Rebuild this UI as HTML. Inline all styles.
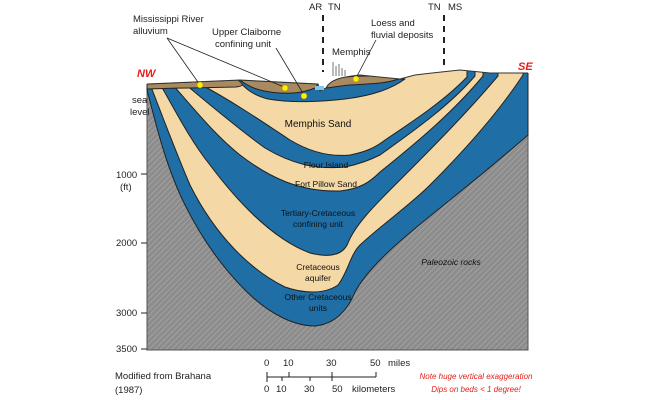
<!DOCTYPE html>
<html><head><style>
body{margin:0;background:#fff;}
svg{display:block;font-family:"Liberation Sans",sans-serif;}
</style></head><body>
<svg width="648" height="400" viewBox="0 0 648 400" xmlns="http://www.w3.org/2000/svg">
<defs>
<pattern id="h" width="4" height="4" patternUnits="userSpaceOnUse" patternTransform="rotate(45)">
<rect width="4" height="4" fill="#8c8c8c"/><line x1="0" y1="0" x2="0" y2="4" stroke="#a8a8a8" stroke-width="1.5"/>
</pattern>
</defs>
<rect x="147" y="80" width="381" height="270" fill="url(#h)" stroke="#555" stroke-width="1"/>
<g stroke="#222" stroke-width="1" stroke-linejoin="round">
<path fill="#1f6ea6" d="M147,60 L147,90 C155,120 165,165 185,205 C200,235 220,265 245,290 C270,315 295,326 315,326 C335,324 348,310 355,292 C370,265 400,240 450,200 C480,176 505,155 528,135 L528,60 Z"/>
<path fill="#f4d8a6" d="M150,60 L150,84 C160,110 175,150 190,185 C215,235 250,270 285,287 C305,294 325,294 338,285 C348,272 350,255 360,245 C385,222 410,205 430,185 C470,145 500,110 523,75 L523,60 Z"/>
<path fill="#1f6ea6" d="M160,60 L160,84 C175,110 190,140 210,165 C240,205 275,240 310,253 C330,258 343,255 348,243 C355,225 375,205 395,185 C430,150 465,115 498,76 L498,60 Z"/>
<path fill="#f4d8a6" d="M172,60 L172,84 C195,110 215,135 240,155 C270,178 300,192 340,191 C360,189 370,182 380,172 C420,140 455,110 483,76 L483,60 Z"/>
<path fill="#1f6ea6" d="M185,60 L185,84 C210,105 240,130 265,148 C290,163 315,170 345,167 C360,164 370,160 380,155 C415,130 450,105 475,76 L475,60 Z"/>
<path fill="#f4d8a6" d="M200,60 L200,84 C230,100 260,120 290,140 C310,152 330,157 350,155 C365,152 375,148 385,140 C415,120 445,100 467,77 L467,60 Z"/>
<path fill="#1f6ea6" d="M238,80 C245,88 252,95 268,99 C290,103 320,102 345,99 C370,96 390,90 405,79 Z"/>
<path fill="#a88a5e" d="M147,84 L238,80 C243,84 245,86 236,87 L190,88 C170,88 155,89 147,89 Z"/>
<path fill="#a88a5e" d="M240,80 C250,88 262,92 280,93 C295,94 305,92 315,88 L318,84 Z"/>
<path fill="#a88a5e" d="M325,88 C328,82 332,79 345,77 C365,75 385,76 398,79 C390,83 370,84 350,85 C338,86 330,88 325,88 Z"/>
</g>
<path d="M140,0 L540,0 L540,73 L528,73 L490,73 L460,70 L432,73 L415,75 L400,79 L360,75 C340,77 330,80 326,88 L320,91 L318,84 L240,80 L147,84 L140,84 Z" fill="#fff"/>
<path d="M147,84 L240,80 L318,84 L320,91 L326,88 C330,80 340,77 360,75 L400,79 L415,75 L432,73 L460,70 L490,73 L528,73" fill="none" stroke="#333" stroke-width="1"/>
<rect x="315" y="86" width="9" height="4" fill="#7fc6e8"/>
<g fill="#bbb"><rect x="332" y="62" width="2" height="14"/><rect x="335" y="66" width="2" height="10"/><rect x="338" y="64" width="2" height="12"/><rect x="341" y="68" width="2" height="8"/><rect x="344" y="70" width="2" height="6"/></g>
<line x1="323" y1="15" x2="323" y2="72" stroke="#222" stroke-width="2" stroke-dasharray="6,5"/>
<line x1="444" y1="15" x2="444" y2="70" stroke="#222" stroke-width="2" stroke-dasharray="6,5"/>
<g stroke="#222" stroke-width="0.8"><line x1="167" y1="38" x2="200" y2="85"/><line x1="167" y1="38" x2="284" y2="87"/><line x1="276" y1="48" x2="304" y2="95"/><line x1="376" y1="40" x2="356" y2="78"/></g>
<g fill="#ffee00" stroke="#aa9900" stroke-width="0.5"><circle cx="200" cy="85" r="3"/><circle cx="285" cy="88" r="3"/><circle cx="304" cy="96" r="3"/><circle cx="356" cy="79" r="3"/></g>
<g font-size="9.5" fill="#222">
<text x="133" y="22">Mississippi River</text><text x="133" y="34">alluvium</text>
<text x="212" y="35">Upper Claiborne</text><text x="215" y="47">confining unit</text>
<text x="309" y="10">AR</text><text x="328" y="10">TN</text>
<text x="428" y="10">TN</text><text x="448" y="10">MS</text>
<text x="371" y="26">Loess and</text><text x="371" y="38">fluvial deposits</text>
<text x="332" y="55">Memphis</text>
<text x="132" y="103">sea</text><text x="130" y="115">level</text>
<text x="116" y="178">1000</text><text x="120" y="190">(ft)</text>
<text x="116" y="246">2000</text><text x="116" y="316">3000</text><text x="116" y="352">3500</text>
<text x="115" y="379">Modified from Brahana</text><text x="115" y="393">(1987)</text>
</g>
<g stroke="#222" stroke-width="1"><line x1="141" y1="174" x2="147" y2="174"/><line x1="141" y1="243" x2="147" y2="243"/><line x1="141" y1="313" x2="147" y2="313"/><line x1="141" y1="349" x2="147" y2="349"/></g>
<text x="137" y="77" font-size="11" font-weight="bold" font-style="italic" fill="#e0201a">NW</text>
<text x="518" y="70" font-size="11" font-weight="bold" font-style="italic" fill="#e0201a">SE</text>
<g font-size="8.5" fill="#111" text-anchor="middle">
<text x="318" y="127" font-size="10">Memphis Sand</text>
<text x="326" y="168">Flour Island</text>
<text x="326" y="187">Fort Pillow Sand</text>
<text x="318" y="216">Tertiary-Cretaceous</text><text x="318" y="227">confining unit</text>
<text x="318" y="270">Cretaceous</text><text x="318" y="281">aquifer</text>
<text x="318" y="300">Other Cretaceous</text><text x="318" y="311">units</text>
<text x="451" y="265" font-style="italic">Paleozoic rocks</text>
</g>
<g stroke="#222" stroke-width="1"><line x1="267" y1="377" x2="376" y2="377"/>
<line x1="267" y1="372" x2="267" y2="382"/><line x1="289" y1="372" x2="289" y2="377"/><line x1="332" y1="372" x2="332" y2="377"/><line x1="376" y1="372" x2="376" y2="377"/>
<line x1="282" y1="377" x2="282" y2="381"/><line x1="310" y1="377" x2="310" y2="381"/><line x1="332" y1="377" x2="332" y2="381"/></g>
<g font-size="9.5" fill="#222">
<text x="264" y="366">0</text><text x="283" y="366">10</text><text x="326" y="366">30</text><text x="370" y="366">50</text><text x="388" y="366">miles</text>
<text x="264" y="392">0</text><text x="276" y="392">10</text><text x="304" y="392">30</text><text x="332" y="392">50</text><text x="352" y="392">kilometers</text>
</g>
<g font-size="8" font-style="italic" fill="#e0201a" text-anchor="middle"><text x="476" y="379">Note huge vertical exaggeration</text><text x="476" y="392">Dips on beds &lt; 1 degree!</text></g>
</svg>
</body></html>
